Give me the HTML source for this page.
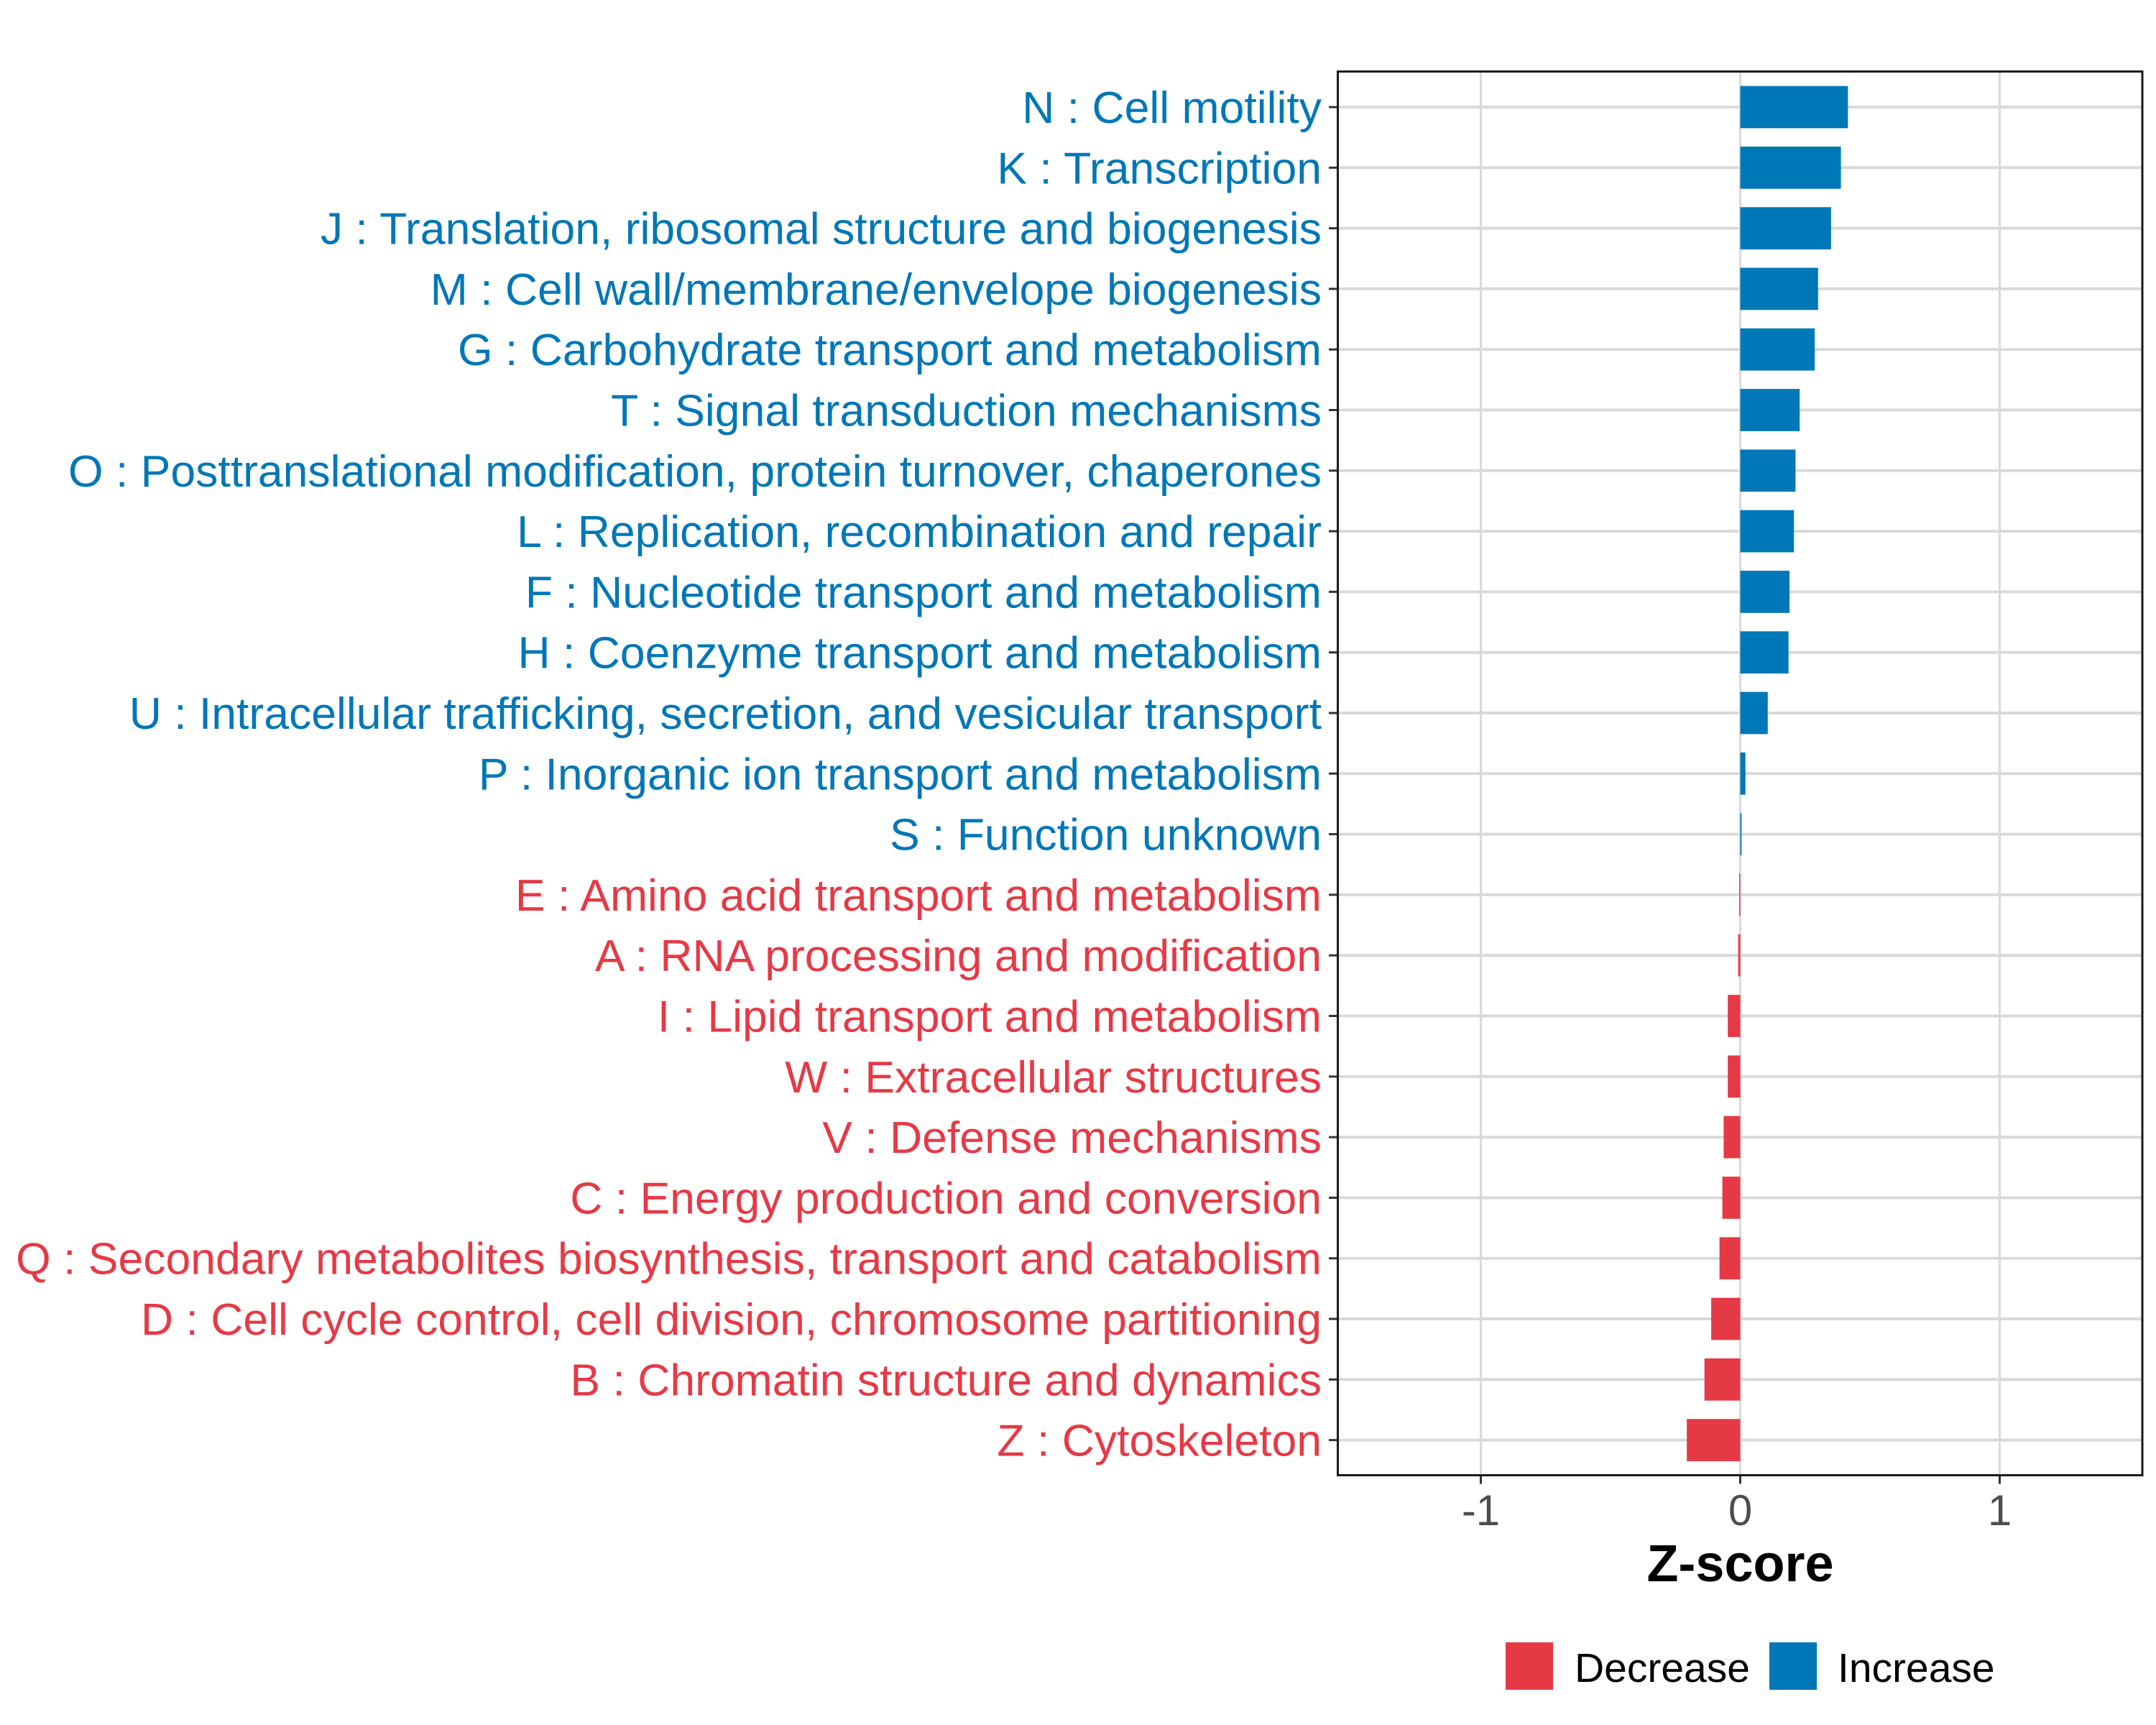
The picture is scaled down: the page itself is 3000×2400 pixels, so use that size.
<!DOCTYPE html>
<html><head><meta charset="utf-8"><style>body{margin:0;background:#fff}svg{display:block}</style></head>
<body>
<svg id="chart" width="3000" height="2400" xmlns="http://www.w3.org/2000/svg" font-family="Liberation Sans, sans-serif">
<rect width="3000" height="2400" fill="#fff"/>
<g id="grid"></g>
<g id="bars"></g>
<g id="ylabels"></g>
<g id="xaxis"></g>
<rect x="1861.5" y="99.5" width="1119.5" height="1953" fill="none" stroke="#1a1a1a" stroke-width="3"/>
<text x="2421.5" y="2200" text-anchor="middle" font-size="72" font-weight="bold" fill="#000">Z-score</text>
<g>
<rect x="2095" y="2285" width="66" height="66" fill="#E63946"/>
<text x="2191" y="2340" font-size="57" fill="#000">Decrease</text>
<rect x="2462" y="2285" width="66" height="66" fill="#0077B6"/>
<text x="2557" y="2340" font-size="57" fill="#000">Increase</text>
</g>
</svg>
<script>
const categories = ["N : Cell motility","K : Transcription","J : Translation, ribosomal structure and biogenesis","M : Cell wall/membrane/envelope biogenesis","G : Carbohydrate transport and metabolism","T : Signal transduction mechanisms","O : Posttranslational modification, protein turnover, chaperones","L : Replication, recombination and repair","F : Nucleotide transport and metabolism","H : Coenzyme transport and metabolism","U : Intracellular trafficking, secretion, and vesicular transport","P : Inorganic ion transport and metabolism","S : Function unknown","E : Amino acid transport and metabolism","A : RNA processing and modification","I : Lipid transport and metabolism","W : Extracellular structures","V : Defense mechanisms","C : Energy production and conversion","Q : Secondary metabolites biosynthesis, transport and catabolism","D : Cell cycle control, cell division, chromosome partitioning","B : Chromatin structure and dynamics","Z : Cytoskeleton"];
const zscores = [0.415,0.388,0.35,0.30,0.287,0.229,0.213,0.207,0.19,0.186,0.106,0.02,0.005,-0.004,-0.008,-0.048,-0.048,-0.064,-0.069,-0.08,-0.112,-0.138,-0.206];
const xTicks = [-1,0,1];
const xTickLabels = ["-1","0","1"];
const NS='http://www.w3.org/2000/svg';
const x0=2421.5, unit=361, rowTop=149, rowStep=84.3, barH=58.7, panelTop=99.5, panelBottom=2052.5;
const xs=v=>x0+v*unit, ys=i=>rowTop+i*rowStep;
function mk(tag,attrs,parent){const e=document.createElementNS(NS,tag);for(const k in attrs)e.setAttribute(k,attrs[k]);parent.appendChild(e);return e;}
const grid=document.getElementById('grid'),bars=document.getElementById('bars'),yl=document.getElementById('ylabels'),xa=document.getElementById('xaxis');
xTicks.forEach((t,i)=>{
  const g=mk('line',{x1:xs(t),x2:xs(t),y1:panelTop,y2:panelBottom,stroke:'#d9d9d9','stroke-width':3},grid);
  
  
  const tk=mk('line',{x1:xs(t),x2:xs(t),y1:panelBottom,y2:panelBottom+12,stroke:'#333','stroke-width':3},xa);
  
  
  const tl=mk('text',{x:xs(t),y:2122,'text-anchor':'middle','font-size':60,fill:'#4d4d4d'},xa);
  
  
  tl.textContent=xTickLabels[i];
});
categories.forEach((c,i)=>{
  const y=ys(i), v=zscores[i], col=v>=0?'#0077B6':'#E63946';
  const g=mk('line',{x1:1861.5,x2:2981,y1:y,y2:y,stroke:'#d9d9d9','stroke-width':4},grid);
  
  
  const r=mk('rect',{x:Math.min(xs(0),xs(v)),y:y-barH/2,width:Math.max(Math.abs(xs(v)-xs(0)),1),height:barH,fill:col},bars);
  
  
  const tk=mk('line',{x1:1849,x2:1861.5,y1:y,y2:y,stroke:'#333','stroke-width':3},yl);
  
  
  const t=mk('text',{x:1839,y:y+22,'text-anchor':'end','font-size':62.5,fill:col},yl);
  
  
  t.textContent=c;
});
</script>
</body></html>
